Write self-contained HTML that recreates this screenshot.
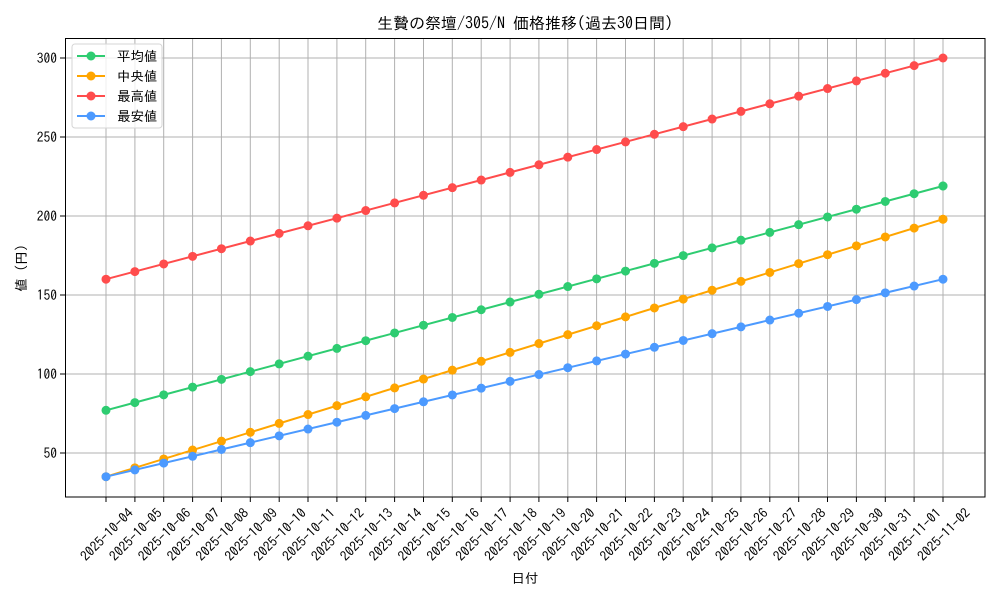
<!DOCTYPE html>
<html><head><meta charset="utf-8"><style>body{margin:0;background:#fff}svg{display:block}text{font-family:"IPAGothic","Liberation Sans","Noto Sans CJK JP",sans-serif;fill:#000}</style></head><body>
<svg width="1000" height="600" xmlns="http://www.w3.org/2000/svg">
<rect width="1000" height="600" fill="#fff"/>
<g stroke="#b0b0b0" stroke-width="1">
<path d="M106 38V497M134.9 38V497M163.7 38V497M192.6 38V497M221.4 38V497M250.3 38V497M279.2 38V497M308 38V497M336.9 38V497M365.7 38V497M394.6 38V497M423.5 38V497M452.3 38V497M481.2 38V497M510.1 38V497M538.9 38V497M567.8 38V497M596.6 38V497M625.5 38V497M654.4 38V497M683.2 38V497M712.1 38V497M740.9 38V497M769.8 38V497M798.7 38V497M827.5 38V497M856.4 38V497M885.3 38V497M914.1 38V497M943 38V497"/>
<path d="M65 453H985M65 374H985M65 295H985M65 216H985M65 137H985M65 58H985"/>
</g>
<g stroke="#000" stroke-width="1">
<path d="M106 497v5M134.9 497v5M163.7 497v5M192.6 497v5M221.4 497v5M250.3 497v5M279.2 497v5M308 497v5M336.9 497v5M365.7 497v5M394.6 497v5M423.5 497v5M452.3 497v5M481.2 497v5M510.1 497v5M538.9 497v5M567.8 497v5M596.6 497v5M625.5 497v5M654.4 497v5M683.2 497v5M712.1 497v5M740.9 497v5M769.8 497v5M798.7 497v5M827.5 497v5M856.4 497v5M885.3 497v5M914.1 497v5M943 497v5"/>
<path d="M65 453h-5M65 374h-5M65 295h-5M65 216h-5M65 137h-5M65 58h-5"/>
</g>
<g fill="none" stroke-width="2">
<line x1="106" y1="410.3" x2="943" y2="186" stroke="#2ecc71"/>
<line x1="106" y1="410.3" x2="943" y2="186" stroke="#2ecc71" stroke-width="9" stroke-linecap="round" stroke-dasharray="0 29.880"/>
<circle cx="943" cy="186" r="4.5" fill="#2ecc71" stroke="none"/>
<line x1="106" y1="476.7" x2="943" y2="219.2" stroke="#ffa500"/>
<line x1="106" y1="476.7" x2="943" y2="219.2" stroke="#ffa500" stroke-width="9" stroke-linecap="round" stroke-dasharray="0 30.197"/>
<circle cx="943" cy="219.2" r="4.5" fill="#ffa500" stroke="none"/>
<line x1="106" y1="279.2" x2="943" y2="58" stroke="#ff4c4c"/>
<line x1="106" y1="279.2" x2="943" y2="58" stroke="#ff4c4c" stroke-width="9" stroke-linecap="round" stroke-dasharray="0 29.853"/>
<circle cx="943" cy="58" r="4.5" fill="#ff4c4c" stroke="none"/>
<line x1="106" y1="476.7" x2="943" y2="279.2" stroke="#4c9aff"/>
<line x1="106" y1="476.7" x2="943" y2="279.2" stroke="#4c9aff" stroke-width="9" stroke-linecap="round" stroke-dasharray="0 29.655"/>
<circle cx="943" cy="279.2" r="4.5" fill="#4c9aff" stroke="none"/>
</g>
<rect x="65.5" y="38.5" width="919.5" height="458.5" fill="none" stroke="#000" stroke-width="1"/>
<g font-size="13.5" text-anchor="end">
<text x="57" y="458">50</text><text x="57" y="379">100</text><text x="57" y="300">150</text><text x="57" y="221">200</text><text x="57" y="142">250</text><text x="57" y="63">300</text>
</g>
<g font-size="13.5" text-anchor="end">
<text transform="translate(134,514) rotate(-45)">2025-10-04</text>
<text transform="translate(162.9,514) rotate(-45)">2025-10-05</text>
<text transform="translate(191.7,514) rotate(-45)">2025-10-06</text>
<text transform="translate(220.6,514) rotate(-45)">2025-10-07</text>
<text transform="translate(249.4,514) rotate(-45)">2025-10-08</text>
<text transform="translate(278.3,514) rotate(-45)">2025-10-09</text>
<text transform="translate(307.2,514) rotate(-45)">2025-10-10</text>
<text transform="translate(336,514) rotate(-45)">2025-10-11</text>
<text transform="translate(364.9,514) rotate(-45)">2025-10-12</text>
<text transform="translate(393.7,514) rotate(-45)">2025-10-13</text>
<text transform="translate(422.6,514) rotate(-45)">2025-10-14</text>
<text transform="translate(451.5,514) rotate(-45)">2025-10-15</text>
<text transform="translate(480.3,514) rotate(-45)">2025-10-16</text>
<text transform="translate(509.2,514) rotate(-45)">2025-10-17</text>
<text transform="translate(538.1,514) rotate(-45)">2025-10-18</text>
<text transform="translate(566.9,514) rotate(-45)">2025-10-19</text>
<text transform="translate(595.8,514) rotate(-45)">2025-10-20</text>
<text transform="translate(624.6,514) rotate(-45)">2025-10-21</text>
<text transform="translate(653.5,514) rotate(-45)">2025-10-22</text>
<text transform="translate(682.4,514) rotate(-45)">2025-10-23</text>
<text transform="translate(711.2,514) rotate(-45)">2025-10-24</text>
<text transform="translate(740.1,514) rotate(-45)">2025-10-25</text>
<text transform="translate(768.9,514) rotate(-45)">2025-10-26</text>
<text transform="translate(797.8,514) rotate(-45)">2025-10-27</text>
<text transform="translate(826.7,514) rotate(-45)">2025-10-28</text>
<text transform="translate(855.5,514) rotate(-45)">2025-10-29</text>
<text transform="translate(884.4,514) rotate(-45)">2025-10-30</text>
<text transform="translate(913.3,514) rotate(-45)">2025-10-31</text>
<text transform="translate(942.1,514) rotate(-45)">2025-11-01</text>
<text transform="translate(971,514) rotate(-45)">2025-11-02</text>
</g>
<text x="525" y="583" font-size="13.5" text-anchor="middle">日付</text>
<text transform="translate(26,268) rotate(-90)" font-size="13.5" text-anchor="middle">値 (円)</text>
<text x="525" y="29" font-size="16" text-anchor="middle">生贄の祭壇/305/N 価格推移(過去30日間)</text>
<rect x="72" y="44" width="90" height="84" rx="3" fill="#fff" fill-opacity="0.8" stroke="#d6d6d6"/>
<g stroke-width="2">
<line x1="77" y1="56" x2="105" y2="56" stroke="#2ecc71"/><circle cx="91" cy="56" r="4.5" fill="#2ecc71"/>
<line x1="77" y1="76" x2="105" y2="76" stroke="#ffa500"/><circle cx="91" cy="76" r="4.5" fill="#ffa500"/>
<line x1="77" y1="96" x2="105" y2="96" stroke="#ff4c4c"/><circle cx="91" cy="96" r="4.5" fill="#ff4c4c"/>
<line x1="77" y1="116" x2="105" y2="116" stroke="#4c9aff"/><circle cx="91" cy="116" r="4.5" fill="#4c9aff"/>
</g>
<g font-size="13.5">
<text x="117" y="61">平均値</text><text x="117" y="81">中央値</text><text x="117" y="101">最高値</text><text x="117" y="121">最安値</text>
</g>
</svg>
</body></html>
